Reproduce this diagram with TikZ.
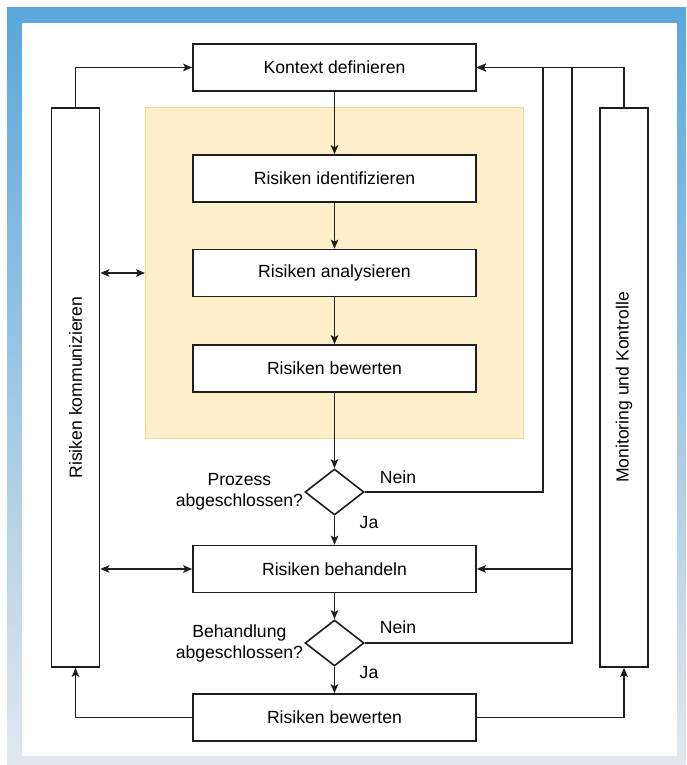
\documentclass[tikz,border=0pt]{standalone}
\usepackage{fontspec}
\setmainfont{Liberation Sans}
\usetikzlibrary{arrows.meta,shapes.geometric,positioning}

\definecolor{rahmenblau}{HTML}{5AA7DB}
\definecolor{rahmengrau}{HTML}{E3E7EE}
\definecolor{gelbfeld}{HTML}{FCEFC9}
\definecolor{gelbrand}{HTML}{F0D994}
\definecolor{linie}{HTML}{1E1E1E}

\tikzset{
  schritt/.style={draw=linie, line width=1.6pt, fill=white, minimum width=283pt,
    minimum height=47pt, inner sep=0pt},
  seite/.style={draw=linie, line width=1.6pt, fill=white, minimum width=48pt,
    minimum height=559pt, inner sep=0pt},
  frage/.style={diamond, draw=linie, line width=1.6pt, fill=white,
    minimum width=59pt, minimum height=46pt, inner sep=0pt},
  pfeil/.style={draw=linie, line width=1.6pt, -{Stealth[length=9pt,width=7.5pt,inset=2pt]}},
  doppel/.style={draw=linie, line width=1.6pt,
    {Stealth[length=9pt,width=7.5pt,inset=2pt]}-{Stealth[length=9pt,width=7.5pt,inset=2pt]}},
  beschr/.style={inner sep=0pt, align=center},
}

\begin{document}
\begin{tikzpicture}[x=1pt,y=-1pt,font=\fontsize{17.6}{21}\selectfont]%Risikomanagement-Prozess
    \useasboundingbox (0,0) rectangle (686,765);
    \fill[white] (0,0) rectangle (686,765);
    \shade[top color=rahmenblau, bottom color=rahmengrau] (7,8) rectangle (686,765);
    \fill[white] (22,23) rectangle (677,756);

    \node[draw=gelbrand, line width=1pt, fill=gelbfeld, minimum width=378pt,
      minimum height=330pt] (feld) at (334.5,273) {};

    \node[schritt] (kontext) at (334.5,67.5) {Kontext definieren};
    \node[schritt] (ident) at (334.5,178.5) {Risiken identifizieren};
    \node[schritt] (anal) at (334.5,273) {Risiken analysieren};
    \node[schritt] (bew1) at (334.5,368.5) {Risiken bewerten};
    \node[frage] (f1) at (334.5,492) {};
    \node[schritt] (beh) at (334.5,569) {Risiken behandeln};
    \node[frage] (f2) at (334.5,643) {};
    \node[schritt] (bew2) at (334.5,717.5) {Risiken bewerten};

    \node[seite] (komm) at (75.5,387.5) {};
    \node[rotate=90] at (komm) {Risiken kommunizieren};
    \node[seite] (mon) at (624,387.5) {};
    \node[rotate=90] at (mon) {Monitoring und Kontrolle};

    \node[beschr, left=1pt of f1] (t1) {Prozess\\abgeschlossen?};
    \node[beschr, left=1pt of f2] (t2) {Behandlung\\abgeschlossen?};
    \node[beschr] (nein1) at (398,477) {Nein};
    \node[beschr] (ja1) at (369,523) {Ja};
    \node[beschr] (nein2) at (398,627) {Nein};
    \node[beschr] (ja2) at (369,673) {Ja};

    \coordinate (k1) at (543,67.5);
    \coordinate (k2) at (572,67.5);

    \draw[pfeil] (kontext) -- (ident);
    \draw[pfeil] (ident) -- (anal);
    \draw[pfeil] (anal) -- (bew1);
    \draw[pfeil] (bew1) -- (f1);
    \draw[pfeil] (f1) -- (beh);
    \draw[pfeil] (beh) -- (f2);
    \draw[pfeil] (f2) -- (bew2);

    \draw[pfeil] (f1.east) -| (k1) -- (kontext.east);
    \draw[pfeil] (f2.east) -| (k2) -- (kontext.east);
    \draw[pfeil] (mon.north) |- (kontext.east);
    \draw[pfeil] (k2 |- beh.east) -- (beh.east);
    \draw[pfeil] (komm.north) |- (kontext.west);
    \draw[doppel] (komm.east |- feld.west) -- (feld.west);
    \draw[doppel] (komm.east |- beh.west) -- (beh.west);
    \draw[pfeil] (bew2.west) -| (komm.south);
    \draw[pfeil] (bew2.east) -| (mon.south);
\end{tikzpicture}
\end{document}
